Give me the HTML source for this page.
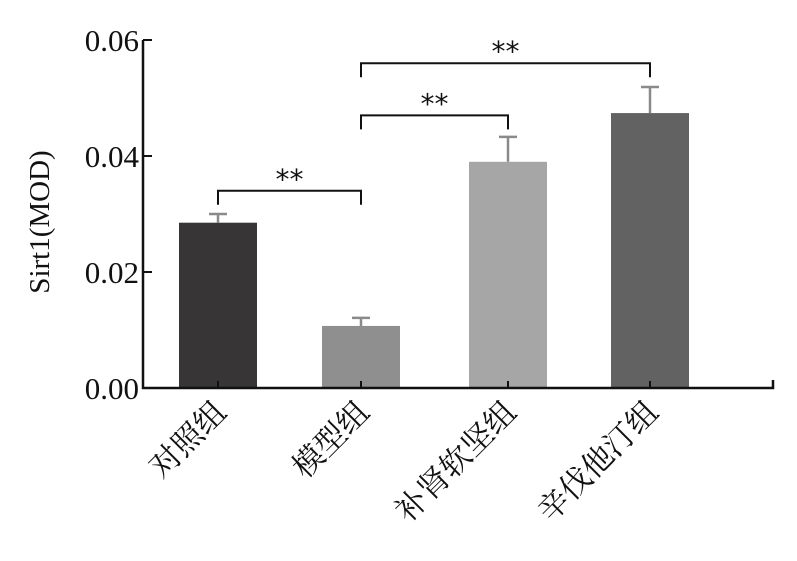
<!DOCTYPE html>
<html><head><meta charset="utf-8"><style>body{margin:0;background:#fff}svg{display:block}</style></head>
<body>
<svg id="chart" width="797" height="561" xmlns="http://www.w3.org/2000/svg" font-family="'Liberation Serif','Noto Serif CJK SC',serif"></svg>
<script>
const categories = ["对照组","模型组","补肾软坚组","辛伐他汀组"];
const values = [0.0285, 0.0107, 0.0390, 0.0474];
const errors = [0.0015, 0.0014, 0.0043, 0.0045];
const colors = ["#383536","#8f8f8f","#a7a6a7","#636263"];
const yTicks = [0, 0.02, 0.04, 0.06];
const yTickLabels = ["0.00","0.02","0.04","0.06"];
const NS = "http://www.w3.org/2000/svg";
const svg = document.getElementById("chart");
const y0 = 388, ppu = 5800, xAxis = 143;
const y = v => y0 - v * ppu;
const centers = [218, 361, 508, 650];
const x = i => centers[i];
const bw = 78;
function mk(t, a, p) { const e = document.createElementNS(NS, t); for (const k in a) e.setAttribute(k, a[k]); (p || svg).appendChild(e); return e; }
let e;
// bars
categories.forEach((c, i) => {
  e = mk("rect", {x: x(i) - bw/2, y: y(values[i]), width: bw, height: y0 - y(values[i]), fill: colors[i]});
  
  
  const top = y(values[i] + errors[i]);
  e = mk("path", {d: `M${x(i)} ${y(values[i])}V${top}M${x(i)-9} ${top}H${x(i)+9}`, stroke: "#8a8a8a", "stroke-width": 2.5, fill: "none"});
  
  
  e = mk("text", {x: 0, y: 0, "text-anchor": "end", "font-size": 31, fill: "#111", transform: `translate(${x(i)+10},${y0+26}) rotate(-45)`});
  e.textContent = c;
  
  
  e = mk("line", {x1: x(i), x2: x(i), y1: y0, y2: y0 - 7, stroke: "#111", "stroke-width": 2});
  
  
});
// axes
e = mk("path", {d: `M${xAxis} 40V${y0}H773V${y0-8}`, stroke: "#111", "stroke-width": 2.5, fill: "none"});


yTicks.forEach((t, i) => {
  e = mk("line", {x1: xAxis, x2: xAxis + 9, y1: y(t), y2: y(t), stroke: "#111", "stroke-width": 2});
  
  
  e = mk("text", {x: xAxis - 4, y: y(t) + 11, "text-anchor": "end", "font-size": 31, fill: "#111"});
  e.textContent = yTickLabels[i];
  
  
});
e = mk("text", {x: 0, y: 0, "text-anchor": "middle", "font-size": 29, fill: "#111", transform: "translate(49,222) rotate(-90)"});
e.textContent = "Sirt1(MOD)";


// significance brackets
const brackets = [[0,1,0.0340],[1,2,0.0470],[1,3,0.0560]];
brackets.forEach((b, i) => {
  const by = y(b[2]);
  e = mk("path", {d: `M${x(b[0])} ${by+14}V${by}H${x(b[1])}V${by+14}`, stroke: "#111", "stroke-width": 2, fill: "none"});
  
  
  e = mk("text", {x: (x(b[0]) + x(b[1])) / 2, y: by - 2, "text-anchor": "middle", "font-size": 28, fill: "#111", "font-family": "'DejaVu Sans',sans-serif"});
  e.textContent = "**";
  
  
});
</script>
</body></html>
